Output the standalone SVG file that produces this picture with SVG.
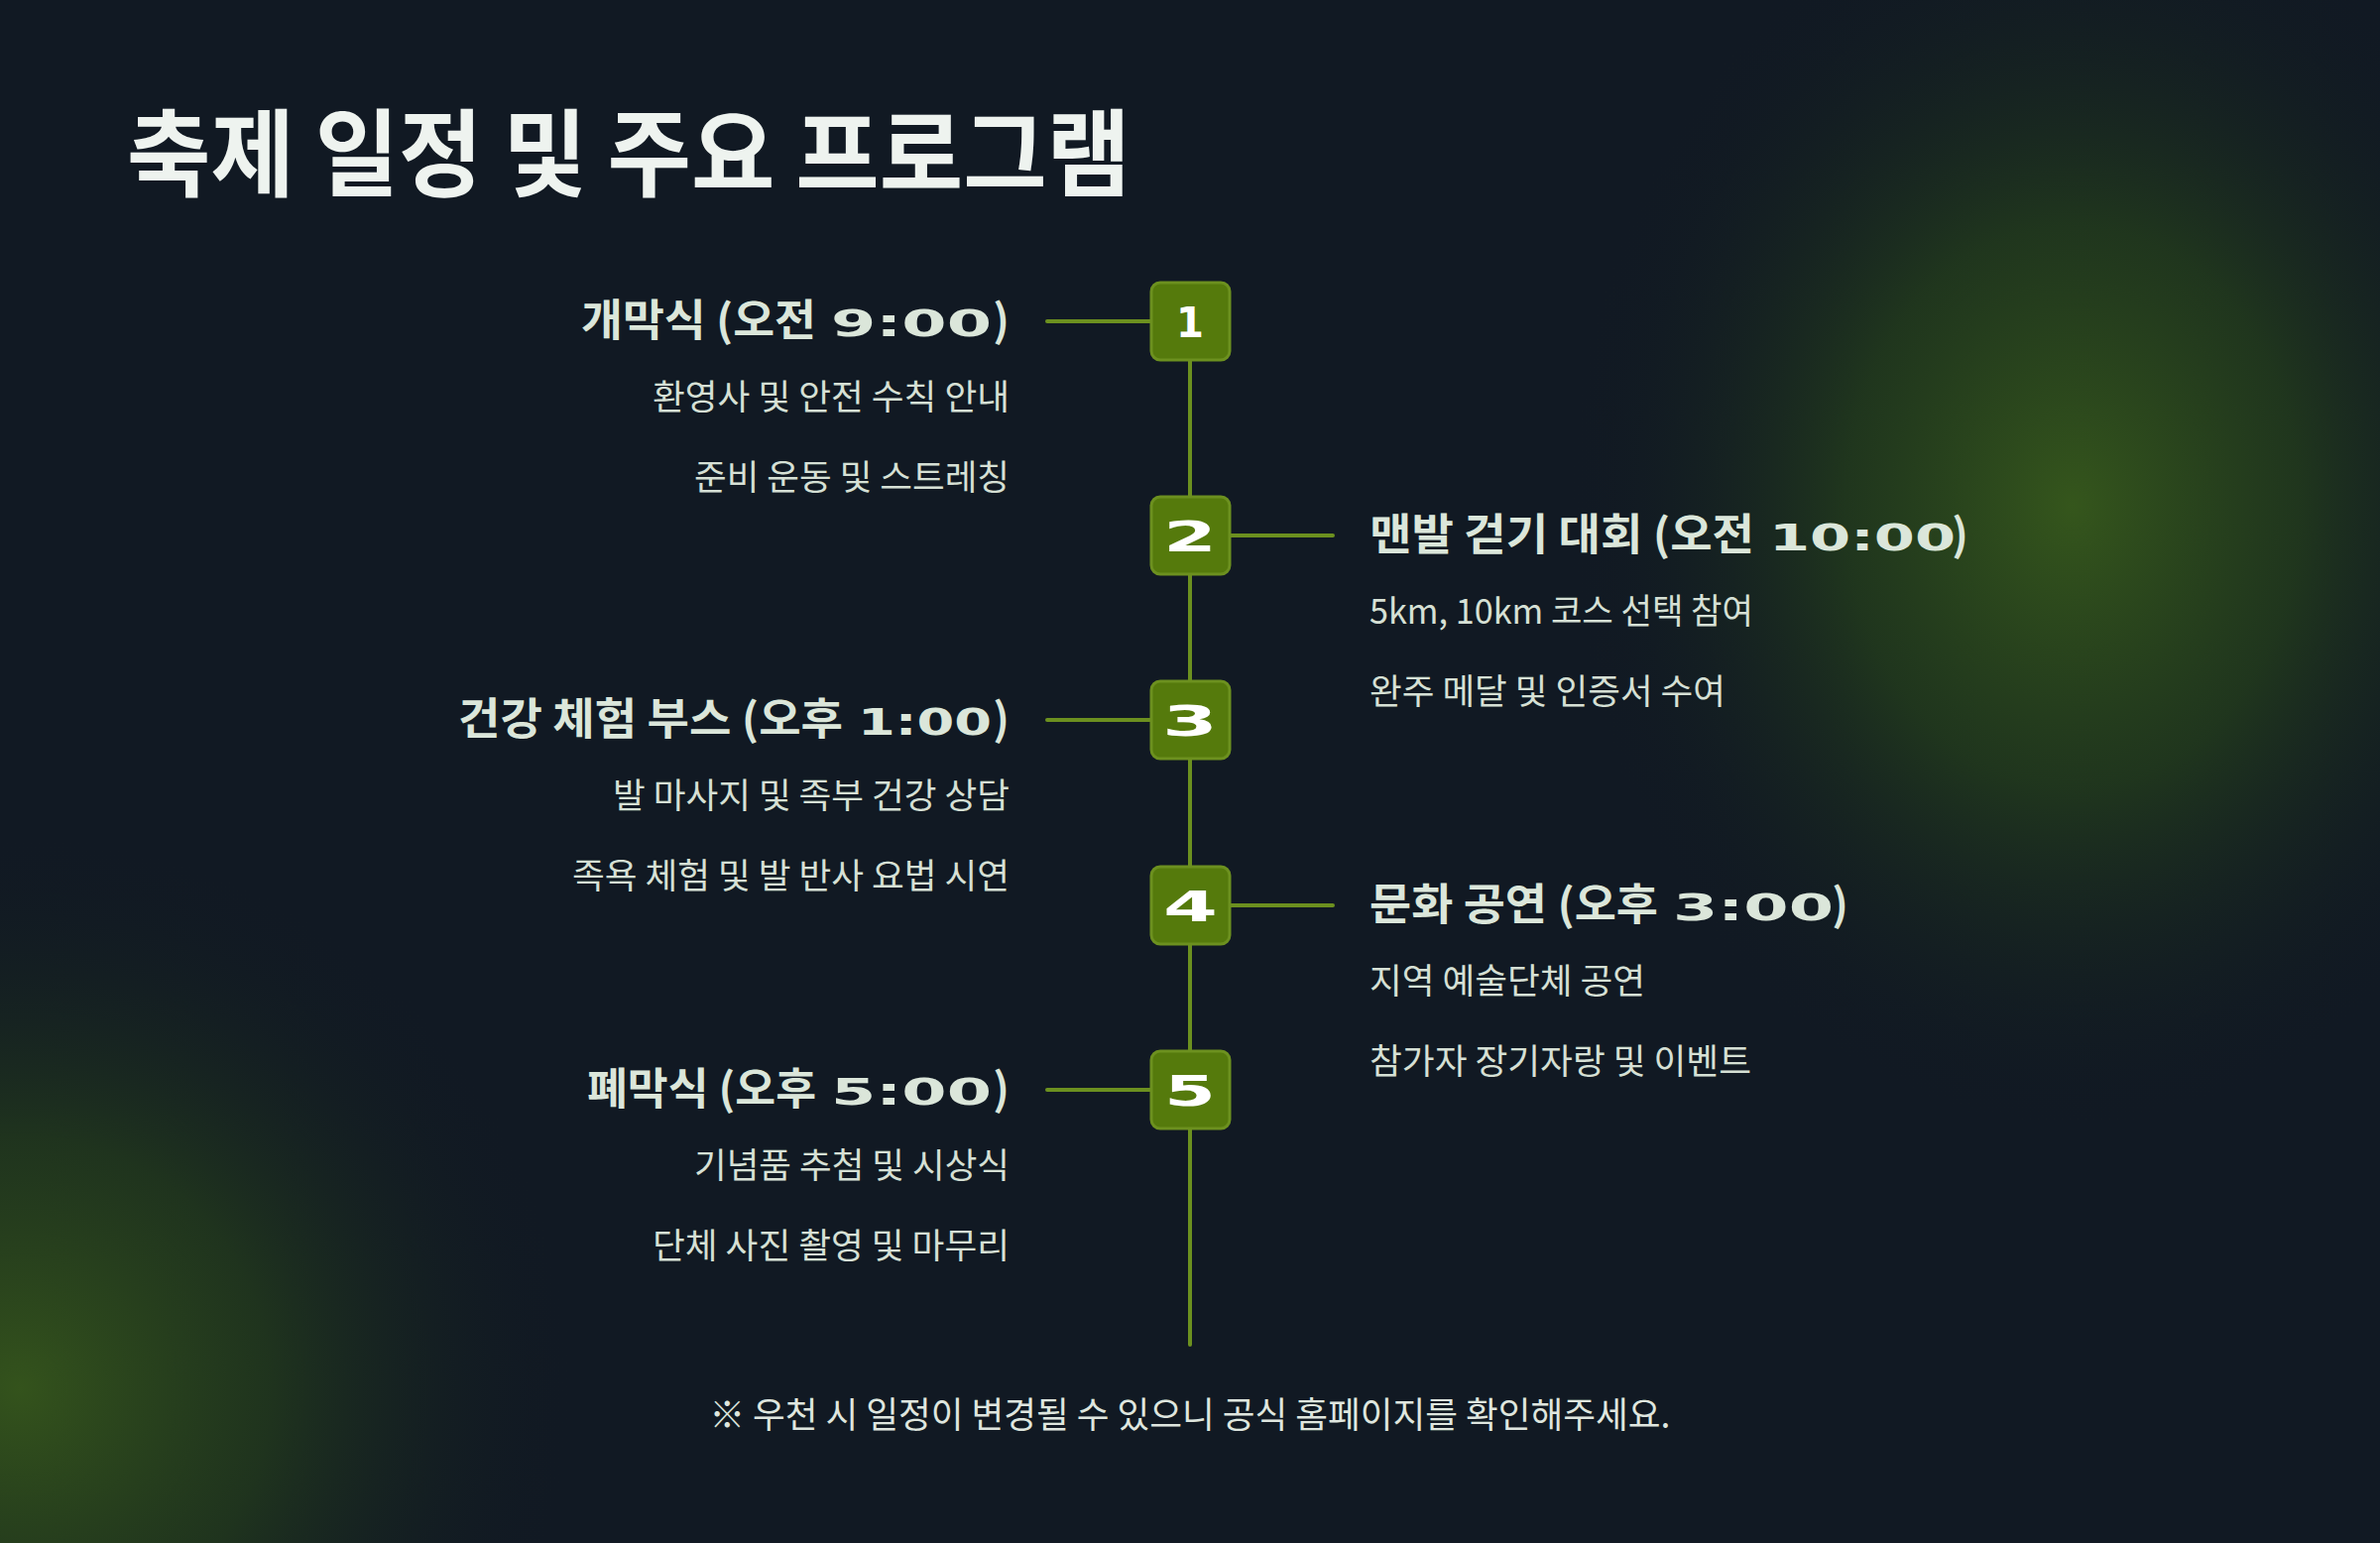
<svg xmlns="http://www.w3.org/2000/svg" width="2400" height="1556" viewBox="0 0 2400 1556">
<defs>
<radialGradient id="glowR" cx="2090" cy="510" r="600" gradientUnits="userSpaceOnUse" gradientTransform="translate(2090 510) scale(0.85 1.05) translate(-2090 -510)">
<stop offset="0" stop-color="#35561c" stop-opacity="1"/>
<stop offset="0.45" stop-color="#26421b" stop-opacity="0.7"/>
<stop offset="1" stop-color="#111923" stop-opacity="0"/>
</radialGradient>
<radialGradient id="glowL" cx="20" cy="1400" r="560" gradientUnits="userSpaceOnUse">
<stop offset="0" stop-color="#34531c" stop-opacity="1"/>
<stop offset="0.45" stop-color="#27421b" stop-opacity="0.65"/>
<stop offset="1" stop-color="#111923" stop-opacity="0"/>
</radialGradient>
<style>
.title{font-family:"Noto Sans CJK KR","Noto Sans",sans-serif;font-weight:700;font-size:96px;fill:#eef3ef}
.hk{font-family:"Noto Sans CJK KR","Noto Sans",sans-serif;font-weight:700;font-size:44px;fill:#dbe6da}
.ht{font-family:"DejaVu Sans",sans-serif;font-weight:700;font-size:38px;fill:#dbe6da}
.sub{font-family:"Noto Sans CJK KR","Noto Sans",sans-serif;font-weight:400;font-size:35px;fill:#d6e0d5}
.foot{font-family:"Noto Sans CJK KR","Noto Sans",sans-serif;font-weight:400;font-size:36px;fill:#dfe6df}
.box{fill:#557a0c;stroke:#6c901f;stroke-width:3}
.num{font-family:"DejaVu Sans",sans-serif;font-weight:700;font-size:42px;fill:#ffffff}
.conn{stroke:#6c901f;stroke-width:4;stroke-linecap:round;fill:none}
</style>
</defs>
<rect width="2400" height="1556" fill="#111923"/>
<rect width="2400" height="1556" fill="url(#glowR)"/>
<rect width="2400" height="1556" fill="url(#glowL)"/>

<text class="title" x="128" y="190" textLength="1012" lengthAdjust="spacingAndGlyphs">축제 일정 및 주요 프로그램</text>

<g id="connectors">
<line class="conn" x1="1200" y1="324" x2="1200" y2="1356"/>
<line class="conn" x1="1056" y1="324" x2="1162" y2="324"/>
<line class="conn" x1="1240" y1="540" x2="1344" y2="540"/>
<line class="conn" x1="1056" y1="726" x2="1162" y2="726"/>
<line class="conn" x1="1240" y1="913" x2="1344" y2="913"/>
<line class="conn" x1="1056" y1="1099" x2="1162" y2="1099"/>
</g>

<g id="node1">
<rect class="box" x="1161" y="285" width="79" height="78" rx="9"/>
<text class="num" x="1186" y="340" textLength="28" lengthAdjust="spacingAndGlyphs">1</text>
<text class="hk" x="823" y="339" text-anchor="end" textLength="237" lengthAdjust="spacingAndGlyphs">개막식 (오전</text>
<text class="ht" x="838" y="339" textLength="162" lengthAdjust="spacingAndGlyphs">9:00</text>
<text class="hk" x="1018" y="339" text-anchor="end">)</text>
<text class="sub" x="1018" y="413" text-anchor="end" textLength="360" lengthAdjust="spacingAndGlyphs">환영사 및 안전 수칙 안내</text>
<text class="sub" x="1018" y="494" text-anchor="end" textLength="318" lengthAdjust="spacingAndGlyphs">준비 운동 및 스트레칭</text>
</g>

<g id="node2">
<rect class="box" x="1161" y="501" width="79" height="78" rx="9"/>
<text class="num" x="1173" y="556" textLength="54" lengthAdjust="spacingAndGlyphs">2</text>
<text class="hk" x="1381" y="555" textLength="388" lengthAdjust="spacingAndGlyphs">맨발 걷기 대회 (오전</text>
<text class="ht" x="1784" y="555" textLength="188" lengthAdjust="spacingAndGlyphs">10:00</text>
<text class="hk" x="1985" y="555" text-anchor="end">)</text>
<text class="sub" x="1381" y="629" textLength="387" lengthAdjust="spacingAndGlyphs">5km, 10km 코스 선택 참여</text>
<text class="sub" x="1381" y="710" textLength="359" lengthAdjust="spacingAndGlyphs">완주 메달 및 인증서 수여</text>
</g>

<g id="node3">
<rect class="box" x="1161" y="687" width="79" height="78" rx="9"/>
<text class="num" x="1172" y="742" textLength="56" lengthAdjust="spacingAndGlyphs">3</text>
<text class="hk" x="850" y="741" text-anchor="end" textLength="388" lengthAdjust="spacingAndGlyphs">건강 체험 부스 (오후</text>
<text class="ht" x="865" y="741" textLength="135" lengthAdjust="spacingAndGlyphs">1:00</text>
<text class="hk" x="1018" y="741" text-anchor="end">)</text>
<text class="sub" x="1018" y="815" text-anchor="end" textLength="400" lengthAdjust="spacingAndGlyphs">발 마사지 및 족부 건강 상담</text>
<text class="sub" x="1018" y="896" text-anchor="end" textLength="441" lengthAdjust="spacingAndGlyphs">족욕 체험 및 발 반사 요법 시연</text>
</g>

<g id="node4">
<rect class="box" x="1161" y="874" width="79" height="78" rx="9"/>
<text class="num" x="1173" y="929" textLength="55" lengthAdjust="spacingAndGlyphs">4</text>
<text class="hk" x="1381" y="928" textLength="291" lengthAdjust="spacingAndGlyphs">문화 공연 (오후</text>
<text class="ht" x="1687" y="928" textLength="162" lengthAdjust="spacingAndGlyphs">3:00</text>
<text class="hk" x="1864" y="928" text-anchor="end">)</text>
<text class="sub" x="1381" y="1002" textLength="278" lengthAdjust="spacingAndGlyphs">지역 예술단체 공연</text>
<text class="sub" x="1381" y="1083" textLength="385" lengthAdjust="spacingAndGlyphs">참가자 장기자랑 및 이벤트</text>
</g>

<g id="node5">
<rect class="box" x="1161" y="1060" width="79" height="78" rx="9"/>
<text class="num" x="1174" y="1115" textLength="52" lengthAdjust="spacingAndGlyphs">5</text>
<text class="hk" x="823" y="1114" text-anchor="end" textLength="231" lengthAdjust="spacingAndGlyphs">폐막식 (오후</text>
<text class="ht" x="838" y="1114" textLength="162" lengthAdjust="spacingAndGlyphs">5:00</text>
<text class="hk" x="1018" y="1114" text-anchor="end">)</text>
<text class="sub" x="1018" y="1188" text-anchor="end" textLength="318" lengthAdjust="spacingAndGlyphs">기념품 추첨 및 시상식</text>
<text class="sub" x="1018" y="1269" text-anchor="end" textLength="360" lengthAdjust="spacingAndGlyphs">단체 사진 촬영 및 마무리</text>
</g>

<text class="foot" x="1200" y="1440" text-anchor="middle" textLength="969" lengthAdjust="spacingAndGlyphs">※ 우천 시 일정이 변경될 수 있으니 공식 홈페이지를 확인해주세요.</text>
</svg>
